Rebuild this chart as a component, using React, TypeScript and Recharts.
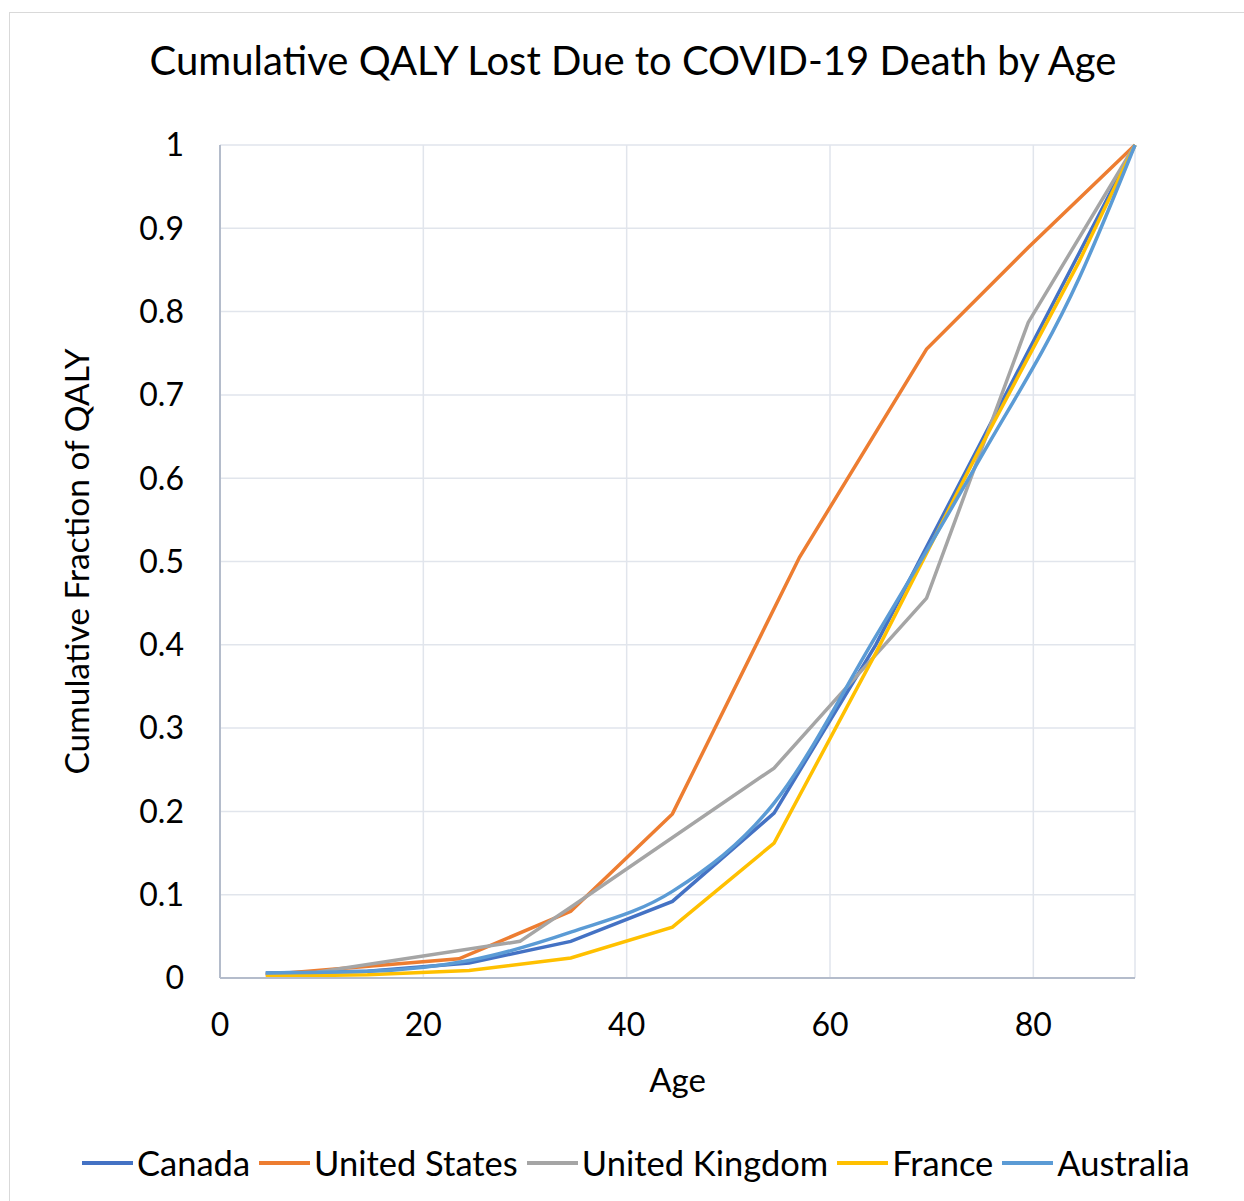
import React from "react";
import { LineChart, Line, XAxis, YAxis, CartesianGrid, Label } from "recharts";

// [age, cumulative fraction]
const canada = [
  { age: 4.5, v: 0.006 },
  { age: 14.5, v: 0.008 },
  { age: 24.5, v: 0.018 },
  { age: 34.5, v: 0.044 },
  { age: 44.5, v: 0.092 },
  { age: 54.5, v: 0.198 },
  { age: 64.5, v: 0.4 },
  { age: 74.5, v: 0.635 },
  { age: 84.5, v: 0.87 },
  { age: 90, v: 1 },
];

const unitedStates = [
  { age: 4.5, v: 0.004 },
  { age: 23.5, v: 0.023 },
  { age: 34.5, v: 0.08 },
  { age: 44.5, v: 0.197 },
  { age: 57, v: 0.505 },
  { age: 69.5, v: 0.755 },
  { age: 79.5, v: 0.877 },
  { age: 90, v: 1 },
];

const unitedKingdom = [
  { age: 4.5, v: 0.005 },
  { age: 9.5, v: 0.007 },
  { age: 29.5, v: 0.044 },
  { age: 34.5, v: 0.085 },
  { age: 54.5, v: 0.252 },
  { age: 69.5, v: 0.456 },
  { age: 79.5, v: 0.787 },
  { age: 90, v: 1 },
];

const france = [
  { age: 4.5, v: 0.002 },
  { age: 14.5, v: 0.004 },
  { age: 24.5, v: 0.009 },
  { age: 34.5, v: 0.024 },
  { age: 44.5, v: 0.061 },
  { age: 54.5, v: 0.162 },
  { age: 64.5, v: 0.39 },
  { age: 74.5, v: 0.63 },
  { age: 84.5, v: 0.86 },
  { age: 90, v: 1 },
];

const australia = [
  { age: 4.5, v: 0.006 },
  { age: 14.5, v: 0.008 },
  { age: 24.5, v: 0.021 },
  { age: 34.5, v: 0.055 },
  { age: 44.5, v: 0.104 },
  { age: 54.5, v: 0.21 },
  { age: 64.5, v: 0.41 },
  { age: 74.5, v: 0.618 },
  { age: 84.5, v: 0.84 },
  { age: 90, v: 1 },
];

const xTicks = [0, 20, 40, 60, 80];
const yTicks = [0, 0.1, 0.2, 0.3, 0.4, 0.5, 0.6, 0.7, 0.8, 0.9, 1];

const series = [
  { name: "Canada", data: canada, color: "#4472C4", curve: "linear" },
  { name: "United States", data: unitedStates, color: "#ED7D31", curve: "linear" },
  { name: "United Kingdom", data: unitedKingdom, color: "#A5A5A5", curve: "linear" },
  { name: "France", data: france, color: "#FFC000", curve: "linear" },
  { name: "Australia", data: australia, color: "#5B9BD5", curve: "monotone" },
];

const FONT = "Lato, 'Open Sans', sans-serif";

export default function App() {
  return (
    <div
      style={{
        position: "absolute",
        left: 0,
        top: 0,
        width: 1244,
        height: 1201,
        background: "#fff",
        overflow: "hidden",
        fontFamily: FONT,
      }}
    >
      <div
        style={{
          position: "absolute",
          left: 9,
          top: 12,
          width: 1250,
          height: 1200,
          border: "1.5px solid #D9D9D9",
        }}
      />
      <div
        style={{
          position: "absolute",
          left: 133,
          top: 40,
          width: 1000,
          textAlign: "center",
          fontSize: 40,
          lineHeight: "40px",
          color: "#000",
        }}
      >
        Cumulative QALY Lost Due to COVID-19 Death by Age
      </div>

      <div style={{ position: "absolute", left: 0, top: 0 }}>
        <LineChart
          width={1244}
          height={1201}
          margin={{ top: 145, right: 109, bottom: 103, left: 20 }}
        >
          <CartesianGrid stroke="#E1E5EC" strokeWidth={1.5} />
          <XAxis
            dataKey="age"
            type="number"
            domain={[0, 90]}
            ticks={xTicks}
            allowDuplicatedCategory={false}
            height={120}
            tickSize={0}
            tickMargin={35}
            tickLine={false}
            axisLine={{ stroke: "#B4BCCB", strokeWidth: 2 }}
            tick={{ fill: "#000", fontSize: 32, fontFamily: FONT }}
          >
            <Label
              value="Age"
              position="center"
              dy={42}
              style={{ fill: "#000", fontSize: 33, fontFamily: FONT }}
            />
          </XAxis>
          <YAxis
            dataKey="v"
            type="number"
            domain={[0, 1]}
            ticks={yTicks}
            width={200}
            tickSize={0}
            tickMargin={36}
            tickLine={false}
            axisLine={{ stroke: "#B4BCCB", strokeWidth: 2 }}
            tick={{ fill: "#000", fontSize: 32, fontFamily: FONT }}
          >
            <Label
              value="Cumulative Fraction of QALY"
              angle={-90}
              position="center"
              dx={-43}
              style={{ fill: "#000", fontSize: 33.5, fontFamily: FONT, textAnchor: "middle" }}
            />
          </YAxis>
          {series.map((s) => (
            <Line
              key={s.name}
              data={s.data}
              dataKey="v"
              name={s.name}
              type={s.curve as any}
              stroke={s.color}
              strokeWidth={3.5}
              dot={false}
              activeDot={false}
              isAnimationActive={false}
            />
          ))}
        </LineChart>
      </div>

      <div
        style={{
          position: "absolute",
          left: 82,
          top: 1143,
          display: "flex",
          alignItems: "center",
          fontSize: 34.5,
          lineHeight: "40px",
          color: "#000",
          whiteSpace: "nowrap",
        }}
      >
        {series.map((s) => (
          <div key={s.name} style={{ display: "flex", alignItems: "center", marginRight: 9 }}>
            <span
              style={{
                display: "inline-block",
                width: 51,
                height: 4,
                background: s.color,
                marginRight: 4,
              }}
            />
            <span>{s.name}</span>
          </div>
        ))}
      </div>
    </div>
  );
}
